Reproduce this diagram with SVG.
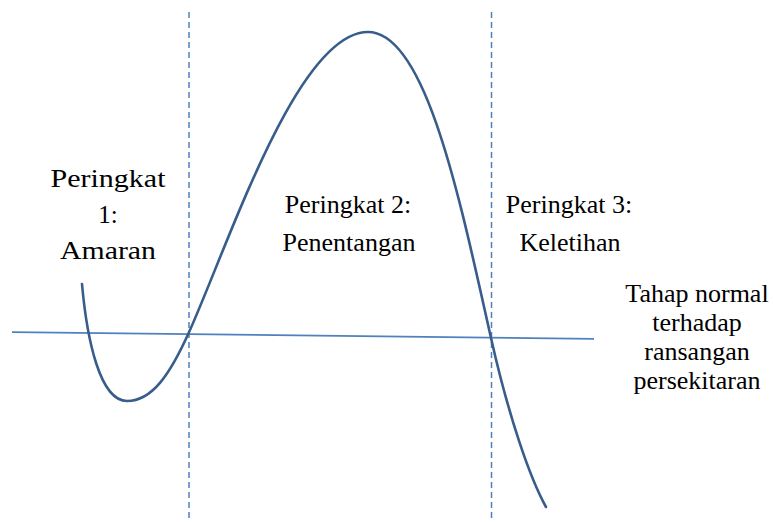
<svg xmlns="http://www.w3.org/2000/svg" width="773" height="522" viewBox="0 0 773 522">
<style>
.t{font-family:"Liberation Serif",serif;font-size:26px;fill:#000;text-anchor:middle}
.p{font-family:"Liberation Serif",serif;font-size:25px;fill:#000;text-anchor:middle}
.dash{stroke:#4F81BD;stroke-width:1.5;stroke-dasharray:6 4;fill:none}
</style>
<defs>
<clipPath id="clipTahap"><rect x="600" y="270" width="173" height="126"/></clipPath>
</defs>
<rect width="773" height="522" fill="#fff"/>
<g id="connectors">
<line class="dash" x1="189" y1="12" x2="189" y2="522"/>
<line class="dash" x1="491.5" y1="12" x2="491.5" y2="522"/>
<line x1="12" y1="332.2" x2="594" y2="338.8" stroke="#4F81BD" stroke-width="1.8"/>
<path d="M82,284 C87,340 100,401 127,401 C152,401 170,375 190,330 C230,240 298,32 368,32 C426,32 460,200 491,338 C509,418 530,478 546,507" fill="none" stroke="#385D8A" stroke-width="2.6" stroke-linecap="round"/>
</g>
<g id="stage1" font-family="Liberation Serif, serif">
<text class="p" x="108" y="187" textLength="115" lengthAdjust="spacingAndGlyphs">Peringkat</text>
<text class="p" x="108" y="223">1:</text>
<text class="p" x="108" y="259" textLength="96" lengthAdjust="spacingAndGlyphs">Amaran</text>
</g>
<g id="stage2" font-family="Liberation Serif, serif">
<text class="t" x="348" y="213">Peringkat 2:</text>
<text class="t" x="349" y="251">Penentangan</text>
</g>
<g id="stage3" font-family="Liberation Serif, serif">
<text class="t" x="569" y="213">Peringkat 3:</text>
<text class="t" x="570" y="251">Keletihan</text>
</g>
<g id="normal" clip-path="url(#clipTahap)" font-family="Liberation Serif, serif">
<text class="t" x="697" y="302">Tahap normal</text>
<text class="t" x="697" y="331">terhadap</text>
<text class="t" x="697" y="360">ransangan</text>
<text class="t" x="697" y="389">persekitaran</text>
</g>
</svg>
